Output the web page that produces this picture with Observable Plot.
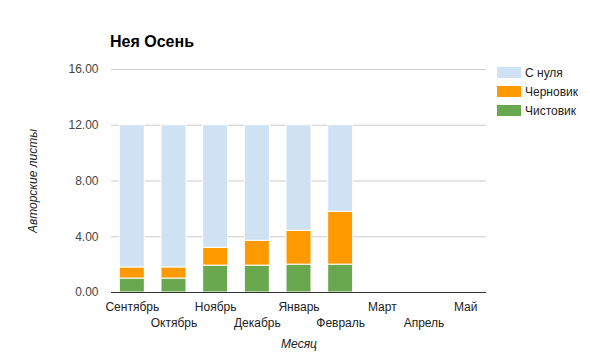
<!DOCTYPE html>
<html>
<head>
<meta charset="utf-8">
<script src="https://cdn.jsdelivr.net/npm/d3@7"></script>
<script src="https://cdn.jsdelivr.net/npm/@observablehq/plot@0.6"></script>
<style>
  body { margin: 0; background: #fff; font-family: "Liberation Sans", Arial, sans-serif; }
  #wrap { position: relative; width: 590px; height: 355px; }
  #title { position: absolute; left: 110px; top: 33px; font-size: 16px; font-weight: bold; color: #000; }
  #legend { position: absolute; left: 497px; top: 63px; font-size: 12px; color: #222; }
  .li { display: flex; align-items: center; height: 19px; }
  .sw { width: 24px; height: 11px; margin-right: 4px; }
</style>
</head>
<body>
<div id="wrap">
  <div id="chart"></div>
  <div id="title">Нея Осень</div>
  <div id="legend"></div>
</div>
<script>
const months = ["Сентябрь","Октябрь","Ноябрь","Декабрь","Январь","Февраль","Март","Апрель","Май"];
const chistovik = [1.0, 1.0, 1.93, 1.93, 2.0, 2.0, 0, 0, 0];
const chernovik = [0.8, 0.8, 1.28, 1.78, 2.43, 3.79, 0, 0, 0];
const sNulya = [10.2, 10.2, 8.79, 8.29, 7.57, 6.21, 0, 0, 0];
const seriesNames = ["Чистовик", "Черновик", "С нуля"];
const seriesColors = ["#6aa84f", "#ff9900", "#cfe2f3"];
const yTicks = [0, 4, 8, 12, 16];

const seriesValues = [chistovik, chernovik, sNulya];
const rows = [];
months.forEach((m, i) => {
  seriesNames.forEach((s, k) => {
    const v = seriesValues[k][i];
    if (v > 0) rows.push({month: m, series: s, value: v});
  });
});

const font = "Liberation Sans, Arial, sans-serif";
const chart = Plot.plot({
  width: 590,
  height: 355,
  marginLeft: 111,
  marginRight: 104,
  marginTop: 69,
  marginBottom: 63,
  style: {fontFamily: font, fontSize: "12px", background: "#fff"},
  x: {domain: months, paddingInner: 0.4, paddingOuter: 0.2, round: false},
  y: {domain: [0, 16]},
  color: {domain: seriesNames, range: seriesColors},
  marks: [
    Plot.ruleY(yTicks.filter(d => d > 0), {stroke: "#cccccc", strokeWidth: 1}),
    Plot.barY(rows, {x: "month", y: "value", fill: "series", z: "series", order: seriesNames, stroke: "#fff", strokeWidth: 1}),
    Plot.ruleY([0], {stroke: "#333333", strokeWidth: 1}),
    Plot.axisY({ticks: yTicks, tickSize: 0, tickPadding: 13, tickFormat: d3.format(".2f"), label: null, fill: "#444", fontSize: 12}),
    Plot.axisX({ticks: months.filter((d, i) => i % 2 === 0), tickSize: 0, tickPadding: 10, label: null, fill: "#222", fontSize: 12}),
    Plot.axisX({ticks: months.filter((d, i) => i % 2 === 1), tickSize: 0, tickPadding: 26, label: null, fill: "#222", fontSize: 12}),
    Plot.text(["Месяц"], {frameAnchor: "bottom", dy: 55, fontStyle: "italic", fill: "#222", fontSize: 12}),
    Plot.text(["Авторские листы"], {frameAnchor: "left", textAnchor: "middle", dx: -78, rotate: -90, fontStyle: "italic", fill: "#222", fontSize: 12})
  ]
});
document.getElementById("chart").appendChild(chart);

const legend = document.getElementById("legend");
[2, 1, 0].forEach(k => {
  const row = document.createElement("div");
  row.className = "li";
  const sw = document.createElement("div");
  sw.className = "sw";
  sw.style.background = seriesColors[k];
  const t = document.createElement("span");
  t.textContent = seriesNames[k];
  row.appendChild(sw);
  row.appendChild(t);
  legend.appendChild(row);
});
</script>
</body>
</html>
